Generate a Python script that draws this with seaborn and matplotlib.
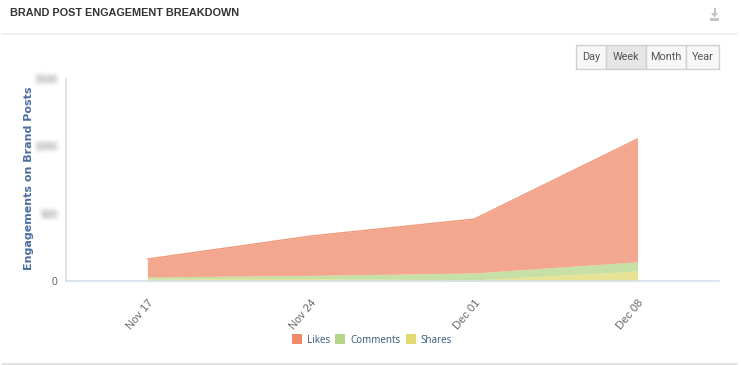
import numpy as np
import pandas as pd
import matplotlib
matplotlib.use('Agg')
import matplotlib.pyplot as plt
import matplotlib.dates as mdates
from matplotlib.patches import Rectangle, Polygon
import seaborn as sns

week_labels = ['2013-11-17', '2013-11-24', '2013-12-01', '2013-12-08']
shares = [16, 18, 8, 74]
comments = [14, 24, 52, 69]
likes = [133, 292, 400, 912]
y_ticks = [0, 500, 1000, 1500]
buttons = ['Day', 'Week', 'Month', 'Year']

sns.set_style('white')
plt.rcParams['font.family'] = ['Liberation Sans', 'DejaVu Sans']

W, H = 741, 365
colors = ['#e0da70', '#b5d688', '#ee8a68']
weeks = pd.to_datetime(week_labels)
df = pd.DataFrame({'week': weeks, 'Shares': shares, 'Comments': comments, 'Likes': likes})
df['top'] = df['Shares'] + df['Comments'] + df['Likes']


# soft blur for the smudged y tick labels, alpha only so the edges stay grey
def blur(img, dpi):
    r = 2
    k = np.ones(2 * r + 1) / (2 * r + 1)
    pad = 6
    out = np.pad(img, ((pad, pad), (pad, pad), (0, 0)))
    a = out[:, :, 3]
    for _ in range(2):
        a = np.apply_along_axis(lambda m: np.convolve(m, k, mode='same'), 0, a)
        a = np.apply_along_axis(lambda m: np.convolve(m, k, mode='same'), 1, a)
    out[:, :, :3] = 0.6
    out[:, :, 3] = np.clip(a * 1.3, 0, 1)
    return out, -pad, -pad


fig = plt.figure(figsize=(W / 100, H / 100), dpi=100, facecolor='white')
ax = fig.add_axes([66 / W, 1 - 281 / H, (719 - 66) / W, 202 / H])

ax.stackplot(df['week'], df['Shares'], df['Comments'], df['Likes'], colors=colors,
             alpha=0.75, labels=['Shares', 'Comments', 'Likes'], linewidth=0)
sns.lineplot(data=df, x='week', y='top', color='#ee9a7c', linewidth=1, ax=ax, legend=False)

ax.set_ylim(0, 1500)
ax.set_xlim(weeks[0] - pd.Timedelta(days=3.49), weeks[-1] + pd.Timedelta(days=3.49))
ax.set_xticks(weeks)
ax.xaxis.set_major_formatter(mdates.DateFormatter('%b %d'))
ax.set_yticks(y_ticks)
ax.set_xlabel('')
ax.set_ylabel('Engagements on Brand Posts', fontsize=8, fontweight='bold', color='#4a6f9e',
              family='DejaVu Sans', labelpad=0)
ax.yaxis.set_label_coords((34 - 66) / (719 - 66), 0.51)

for s in ['top', 'right']:
    ax.spines[s].set_visible(False)
for s in ['left', 'bottom']:
    ax.spines[s].set_color('#d5dfea')
    ax.spines[s].set_linewidth(1.2)
ax.tick_params(axis='x', length=4, width=1, color='#d5dfea', pad=8)
ax.tick_params(axis='y', length=0, pad=6)
for t in ax.get_xticklabels():
    t.set_rotation(50)
    t.set_ha('right')
    t.set_va('top')
    t.set_rotation_mode('anchor')
    t.set_fontsize(8)
    t.set_color('#666666')
for t, v in zip(ax.get_yticklabels(), y_ticks):
    t.set_fontsize(7.5)
    t.set_color('#666666')
    if v > 0:
        t.set_agg_filter(blur)

# legend
order = [2, 1, 0]
h, l = ax.get_legend_handles_labels()
leg = fig.legend([h[i] for i in order], [l[i] for i in order], ncol=3, frameon=False,
                 loc='center', bbox_to_anchor=(372 / W, 1 - 340 / H),
                 handlelength=1, handleheight=1.1, handletextpad=0.5, columnspacing=0.55,
                 labelcolor='#34567a', prop={'family': 'Open Sans', 'size': 7.1})
for p in leg.get_patches():
    p.set_alpha(1)

# page furniture drawn in pixel coordinates
bg = fig.add_axes([0, 0, 1, 1], zorder=-1)
bg.set_xlim(0, W)
bg.set_ylim(H, 0)
bg.axis('off')
bg.text(10, 13.5, 'BRAND POST ENGAGEMENT BREAKDOWN', fontsize=7.8, fontweight='bold',
        color='#333333', va='center', ha='left')
bg.plot([2, 737], [34, 34], color='#eeeeee', lw=1.2)
bg.plot([2, 737], [364, 364], color='#dddddd', lw=1.2)

# export icon
bg.add_patch(Rectangle((710, 18), 9, 2.5, color='#c4c4c4', lw=0))
bg.add_patch(Rectangle((713.5, 8), 2, 6, color='#c4c4c4', lw=0))
bg.add_patch(Polygon([[711, 13], [718, 13], [714.5, 17.5]], color='#c4c4c4', lw=0))

edges = [576, 606, 646, 686, 719]
for i, b in enumerate(buttons):
    x0, x1 = edges[i], edges[i + 1]
    bg.add_patch(Rectangle((x0, 44.5), x1 - x0, 24.5, facecolor='#e6e6e6' if b == 'Week' else '#f7f7f7',
                           edgecolor='#d0d0d0', lw=1))
    bg.text((x0 + x1) / 2, 57, b, fontsize=7.8, color='#555555', ha='center', va='center',
            family='Roboto')

fig.savefig('out.png', dpi=100)
